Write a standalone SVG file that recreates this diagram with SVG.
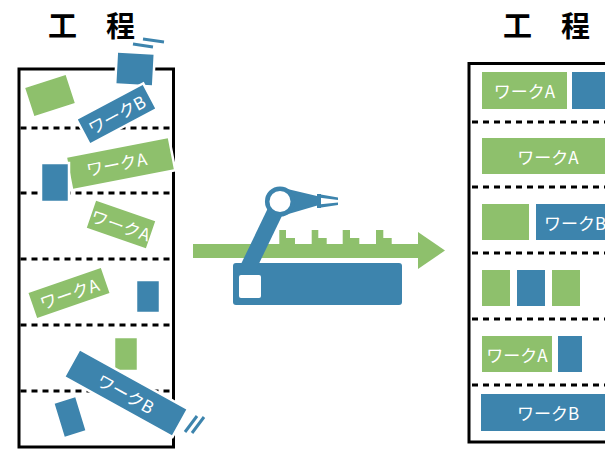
<svg xmlns="http://www.w3.org/2000/svg" width="605" height="449" viewBox="0 0 605 449">
  <defs>
    <style>
      .blue { fill: #3d84ad; }
      .green { fill: #8ec06c; }
      .work { stroke: #ffffff; stroke-width: 2.5; }
      .frame { fill: none; stroke: #000000; stroke-width: 3; }
      .sep { stroke: #000000; stroke-width: 3; stroke-dasharray: 6 5; }
      .speed { stroke: #3d84ad; stroke-width: 3; fill: none; }
      .title { font-family: "Noto Sans CJK JP", "Noto Sans", sans-serif; font-size: 29px; font-weight: bold; fill: #000000; }
      .lbl { font-family: "Noto Sans CJK JP", "Noto Sans", sans-serif; font-size: 17px; fill: #ffffff; text-anchor: middle; dominant-baseline: central; }
    </style>
  </defs>
  <rect width="605" height="449" fill="#ffffff"/>

  <!-- Process before: scattered workpieces -->
  <g id="process-before">
    <text class="title" x="48" y="37">工　程</text>
    <rect class="frame" x="19" y="69" width="154.5" height="378"/>
    <line class="sep" x1="20.5" y1="128" x2="172" y2="128"/>
    <line class="sep" x1="20.5" y1="193" x2="172" y2="193"/>
    <line class="sep" x1="20.5" y1="259" x2="172" y2="259"/>
    <line class="sep" x1="20.5" y1="325" x2="172" y2="325"/>
    <line class="sep" x1="20.5" y1="391" x2="172" y2="391"/>

    <g id="piece-a1" transform="translate(50,95.5) rotate(-18)">
      <rect class="green work" x="-22.5" y="-16" width="45" height="32"/>
    </g>
    <g id="piece-b1" transform="translate(135,69) rotate(3)">
      <rect class="blue work" x="-19" y="-16.5" width="38" height="33"/>
    </g>
    <line class="speed" x1="143" y1="39" x2="164" y2="42"/>
    <line class="speed" x1="133" y1="44" x2="153" y2="47"/>
    <g id="piece-b2" transform="translate(116.5,114) rotate(-28)">
      <rect class="blue work" x="-38" y="-14.5" width="76" height="29"/>
      <text class="lbl" x="0" y="0">ワークB</text>
    </g>
    <g id="piece-a2" transform="translate(120.5,163.5) rotate(-11)">
      <rect class="green work" x="-52.5" y="-17" width="105" height="34"/>
      <text class="lbl" x="-4" y="-1">ワークA</text>
    </g>
    <g id="piece-b3">
      <rect class="blue work" x="41" y="163" width="28" height="39"/>
    </g>
    <g id="piece-a3" transform="translate(121,224.5) rotate(19)">
      <rect class="green work" x="-32.5" y="-15.5" width="65" height="31"/>
      <text class="lbl" x="0" y="0">ワークA</text>
    </g>
    <g id="piece-a4" transform="translate(69,293) rotate(-19)">
      <rect class="green work" x="-39.5" y="-14.5" width="79" height="29"/>
      <text class="lbl" x="0" y="0">ワークA</text>
    </g>
    <g id="piece-b4">
      <rect class="blue work" x="136" y="280" width="24" height="33"/>
    </g>
    <g id="piece-a5">
      <rect class="green work" x="114" y="337" width="24" height="34"/>
    </g>
    <g id="piece-b5" transform="translate(126,393) rotate(29)">
      <rect class="blue work" x="-62" y="-16" width="124" height="32"/>
      <text class="lbl" x="0" y="0">ワークB</text>
    </g>
    <line class="speed" x1="185" y1="432" x2="197" y2="416"/>
    <line class="speed" x1="192" y1="433" x2="204" y2="417"/>
    <g id="piece-b6" transform="translate(70,417) rotate(-17)">
      <rect class="blue work" x="-12" y="-18.5" width="24" height="37"/>
    </g>
  </g>

  <!-- Robot arm sorting on a conveyor -->
  <g id="robot">
    <g id="flow">
      <rect class="green" x="193" y="244" width="226" height="14"/>
      <polygon class="green" points="418,232 445,250.5 418,269"/>
      <path class="green" d="M279.3,244 V230 H286 V238 H295 V244 Z M311.7,244 V230 H318.3 V238 H326.7 V244 Z M342.7,244 V230 H350 V238 H359.3 V244 Z M376,244 V230 H383.3 V238 H391.7 V244 Z"/>
    </g>
    <rect class="blue" x="233" y="263" width="169" height="42" rx="3"/>
    <rect x="239" y="275" width="22" height="23" rx="2" fill="#ffffff"/>
    <line x1="280" y1="201.5" x2="248" y2="268" stroke="#3d84ad" stroke-width="16"/>
    <polygon class="blue" points="279,187 319,196.5 319,205 285,215"/>
    <rect class="blue" x="317" y="194" width="4" height="14"/>
    <polygon class="blue" points="318,194 338,197.5 338,200 318,197.5"/>
    <polygon class="blue" points="318,204.5 338,202.5 338,205 318,208"/>
    <circle cx="280" cy="201.5" r="12.8" fill="#ffffff" stroke="#3d84ad" stroke-width="4.5"/>
  </g>

  <!-- Process after: sorted workpieces -->
  <g id="process-after">
    <text class="title" x="503" y="37">工　程</text>
    <rect class="frame" x="469" y="63.5" width="160" height="378.5"/>
    <line class="sep" x1="472" y1="122" x2="605" y2="122"/>
    <line class="sep" x1="472" y1="187" x2="605" y2="187"/>
    <line class="sep" x1="472" y1="253" x2="605" y2="253"/>
    <line class="sep" x1="472" y1="319" x2="605" y2="319"/>
    <line class="sep" x1="472" y1="385" x2="605" y2="385"/>

    <g id="row1">
      <rect class="green" x="482" y="72" width="85" height="37"/>
      <text class="lbl" x="524.5" y="90.5">ワークA</text>
      <rect class="blue" x="572" y="72" width="50" height="37"/>
    </g>
    <g id="row2">
      <rect class="green" x="482" y="138" width="132" height="36"/>
      <text class="lbl" x="548" y="156">ワークA</text>
    </g>
    <g id="row3">
      <rect class="green" x="482" y="204" width="47" height="36"/>
      <rect class="blue" x="536" y="204" width="78" height="36"/>
      <text class="lbl" x="575" y="222">ワークB</text>
    </g>
    <g id="row4">
      <rect class="green" x="482" y="270" width="28" height="36"/>
      <rect class="blue" x="517" y="270" width="28" height="36"/>
      <rect class="green" x="552" y="270" width="28" height="36"/>
    </g>
    <g id="row5">
      <rect class="green" x="482" y="336" width="70" height="36"/>
      <text class="lbl" x="517" y="354">ワークA</text>
      <rect class="blue" x="558" y="336" width="24" height="36"/>
    </g>
    <g id="row6">
      <rect class="blue" x="481" y="394" width="134" height="37"/>
      <text class="lbl" x="548" y="412.5">ワークB</text>
    </g>
  </g>
</svg>
